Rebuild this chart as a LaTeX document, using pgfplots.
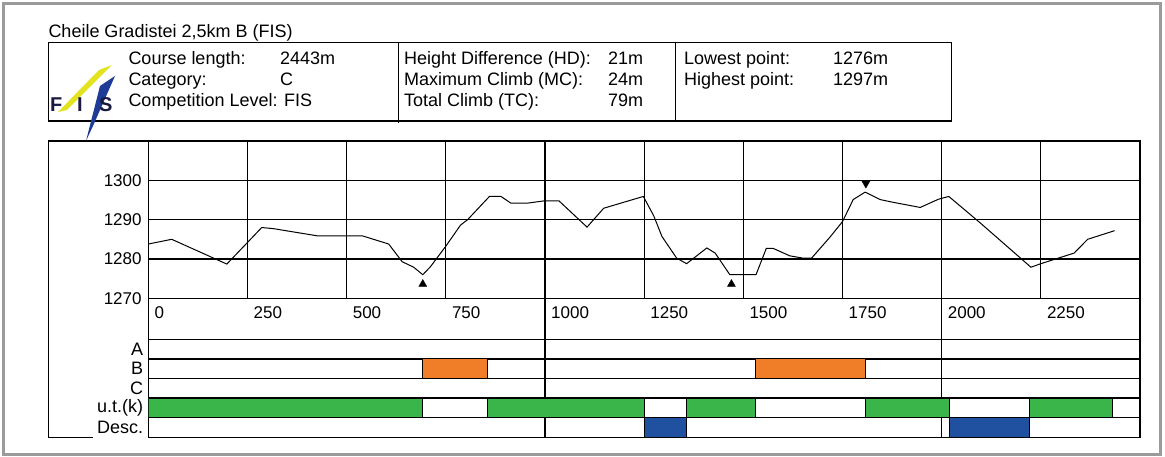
\documentclass[border=0pt]{standalone}
\usepackage{fontspec}
\setmainfont{Liberation Sans}
\usepackage{pgfplots}
\pgfplotsset{compat=1.18}
\definecolor{fisorange}{HTML}{F07D28}
\definecolor{fisgreen}{HTML}{39B54A}
\definecolor{fisblue}{HTML}{2050A0}
\definecolor{framegray}{HTML}{9B9B9B}
\definecolor{logoyellow}{HTML}{E2E21E}
\definecolor{logoblue}{HTML}{1E3C96}
\definecolor{logonavy}{HTML}{1A1A40}
\begin{document}
\begin{tikzpicture}[x=1pt,y=1pt]
% outer gray frame
\draw[framegray, line width=3pt] (3,2) rectangle (1160,453.7);
% header box
\draw[line width=1.3pt] (48.3,414.7) rectangle (951.7,336);
\draw[line width=1.3pt] (398.3,414.7) -- (398.3,334);
\draw[line width=1.3pt] (675.7,414.7) -- (675.7,336);
\node[anchor=base west, inner sep=0pt, font=\fontsize{18}{21}\selectfont] at (48.3,419) {Cheile Gradistei 2,5km B (FIS)};
\begin{scope}[every node/.style={anchor=base west, inner sep=0pt, font=\fontsize{18}{21}\selectfont}]
\node at (128.3,392) {Course length:};
\node at (280,392) {2443m};
\node at (128.3,371) {Category:};
\node at (280,371) {C};
\node at (128.3,350) {Competition Level: FIS};
\node at (404,392) {Height Difference (HD):};
\node at (608,392) {21m};
\node at (404,371) {Maximum Climb (MC):};
\node at (608,371) {24m};
\node at (404,350) {Total Climb (TC):};
\node at (608,350) {79m};
\node at (684,392) {Lowest point:};
\node at (833,392) {1276m};
\node at (684,371) {Highest point:};
\node at (833,371) {1297m};
\end{scope}
% FIS logo
\fill[logoyellow] (58,345) -- (99,387) -- (112,392) -- (67,347) -- cycle;
\fill[logoblue] (86,316) -- (100,371) -- (115,381) -- (93,331) -- cycle;
\node[anchor=base west, inner sep=0pt, text=logonavy, font=\bfseries\fontsize{20}{20}\selectfont] at (50,345) {F};
\node[anchor=base west, inner sep=0pt, text=logonavy, font=\bfseries\fontsize{20}{20}\selectfont] at (77,345) {I};
\node[anchor=base west, inner sep=0pt, text=logonavy, font=\bfseries\fontsize{20}{20}\selectfont] at (99,345) {S};
% outer plot frame pieces
\draw[line width=1.4pt] (148.3,316) -- (48.3,316) -- (48.3,19.7) -- (93,19.7);

% lower axis: label band + rows
\begin{axis}[at={(148.3pt,19.7pt)}, anchor=south west, scale only axis,
  width=991.7pt, height=139pt,
  xmin=0, xmax=2500, ymin=0, ymax=7.092,
  axis line style={line width=1.4pt},
  major tick length=0pt,
  xtick={1000,2000}, xticklabels={}, xmajorgrids,
  grid style={black, line width=1.3pt},
  ytick={0.5,1.5,2.5,3.5,4.5},
  yticklabels={Desc.,u.t.(k),C,B,A},
  yticklabel style={anchor=east, inner sep=0pt, xshift=-5pt, font=\fontsize{18}{20}\selectfont},
  extra y ticks={1,2,3,4,5}, extra y tick labels={},
  extra y tick style={grid=major},
]
% B row
\addplot[draw=black, line width=1.1pt, fill=fisorange] coordinates {(692,3)(856,3)(856,4)(692,4)(692,3)};
\addplot[draw=black, line width=1.1pt, fill=fisorange] coordinates {(1530,3)(1807,3)(1807,4)(1530,4)(1530,3)};
% u.t.(k) row
\addplot[draw=black, line width=1.1pt, fill=fisgreen] coordinates {(0,1)(692,1)(692,2)(0,2)(0,1)};
\addplot[draw=black, line width=1.1pt, fill=fisgreen] coordinates {(856,1)(1250,1)(1250,2)(856,2)(856,1)};
\addplot[draw=black, line width=1.1pt, fill=fisgreen] coordinates {(1357,1)(1530,1)(1530,2)(1357,2)(1357,1)};
\addplot[draw=black, line width=1.1pt, fill=fisgreen] coordinates {(1807,1)(2019,1)(2019,2)(1807,2)(1807,1)};
\addplot[draw=black, line width=1.1pt, fill=fisgreen] coordinates {(2222,1)(2430,1)(2430,2)(2222,2)(2222,1)};
% Desc. row
\addplot[draw=black, line width=1.1pt, fill=fisblue] coordinates {(1250,0)(1357,0)(1357,1)(1250,1)(1250,0)};
\addplot[draw=black, line width=1.1pt, fill=fisblue] coordinates {(2019,0)(2222,0)(2222,1)(2019,1)(2019,0)};
\end{axis}

% profile axis
\begin{axis}[at={(148.3pt,158.7pt)}, anchor=south west, scale only axis,
  width=991.7pt, height=157.3pt,
  xmin=0, xmax=2500, ymin=1270, ymax=1310,
  axis line style={line width=1.4pt},
  grid=major, grid style={black, line width=1.3pt},
  major tick length=0pt,
  xtick={0,250,500,750,1000,1250,1500,1750,2000,2250},
  xticklabels={0,250,500,750,1000,1250,1500,1750,2000,2250},
  xticklabel style={anchor=west, inner sep=0pt, xshift=6pt, yshift=-14pt, font=\fontsize{17}{19}\selectfont},
  ytick={1270,1280,1290,1300},
  yticklabels={1270,1280,1290,1300},
  yticklabel style={anchor=east, inner sep=0pt, xshift=-6.5pt, font=\fontsize{17}{19}\selectfont},
]
\addplot[black, line width=1pt] coordinates {
(0,1283.8) (59,1285) (198,1278.7) (286,1288) (316,1287.7) (425,1285.9) (539,1285.9)
(606,1283.8) (640,1279.3) (669,1277.9) (692,1276) (711,1278) (749,1283.1) (787,1288.6)
(805,1290) (860,1295.9) (889,1295.9) (914,1294.2) (956,1294.2) (1000,1294.8) (1035,1294.8)
(1106,1288.1) (1148,1292.9) (1248,1295.9) (1274,1291) (1295,1285.7) (1332,1280.2)
(1357,1278.8) (1408,1282.8) (1429,1281.5) (1466,1276) (1532,1276) (1558,1282.7)
(1575,1282.7) (1617,1280.8) (1651,1280.2) (1672,1280.2) (1718,1285.5) (1750,1289.5)
(1777,1295.1) (1807,1297) (1845,1295.1) (1878,1294.4) (1946,1293.1) (1992,1295.2)
(2018,1295.9) (2098,1289.1) (2225,1277.9) (2250,1278.8) (2334,1281.5) (2368,1285)
(2436,1287.2)};
\addplot[only marks, mark=triangle*, mark size=4.6pt, black] coordinates {(692,1273.6) (1470,1273.6)};
\addplot[only marks, mark=triangle*, mark size=4.6pt, black, mark options={rotate=180}] coordinates {(1809,1299.2)};
\end{axis}
\pgfresetboundingbox
\useasboundingbox (0,0) rectangle (1165,457);
\end{tikzpicture}
\end{document}
